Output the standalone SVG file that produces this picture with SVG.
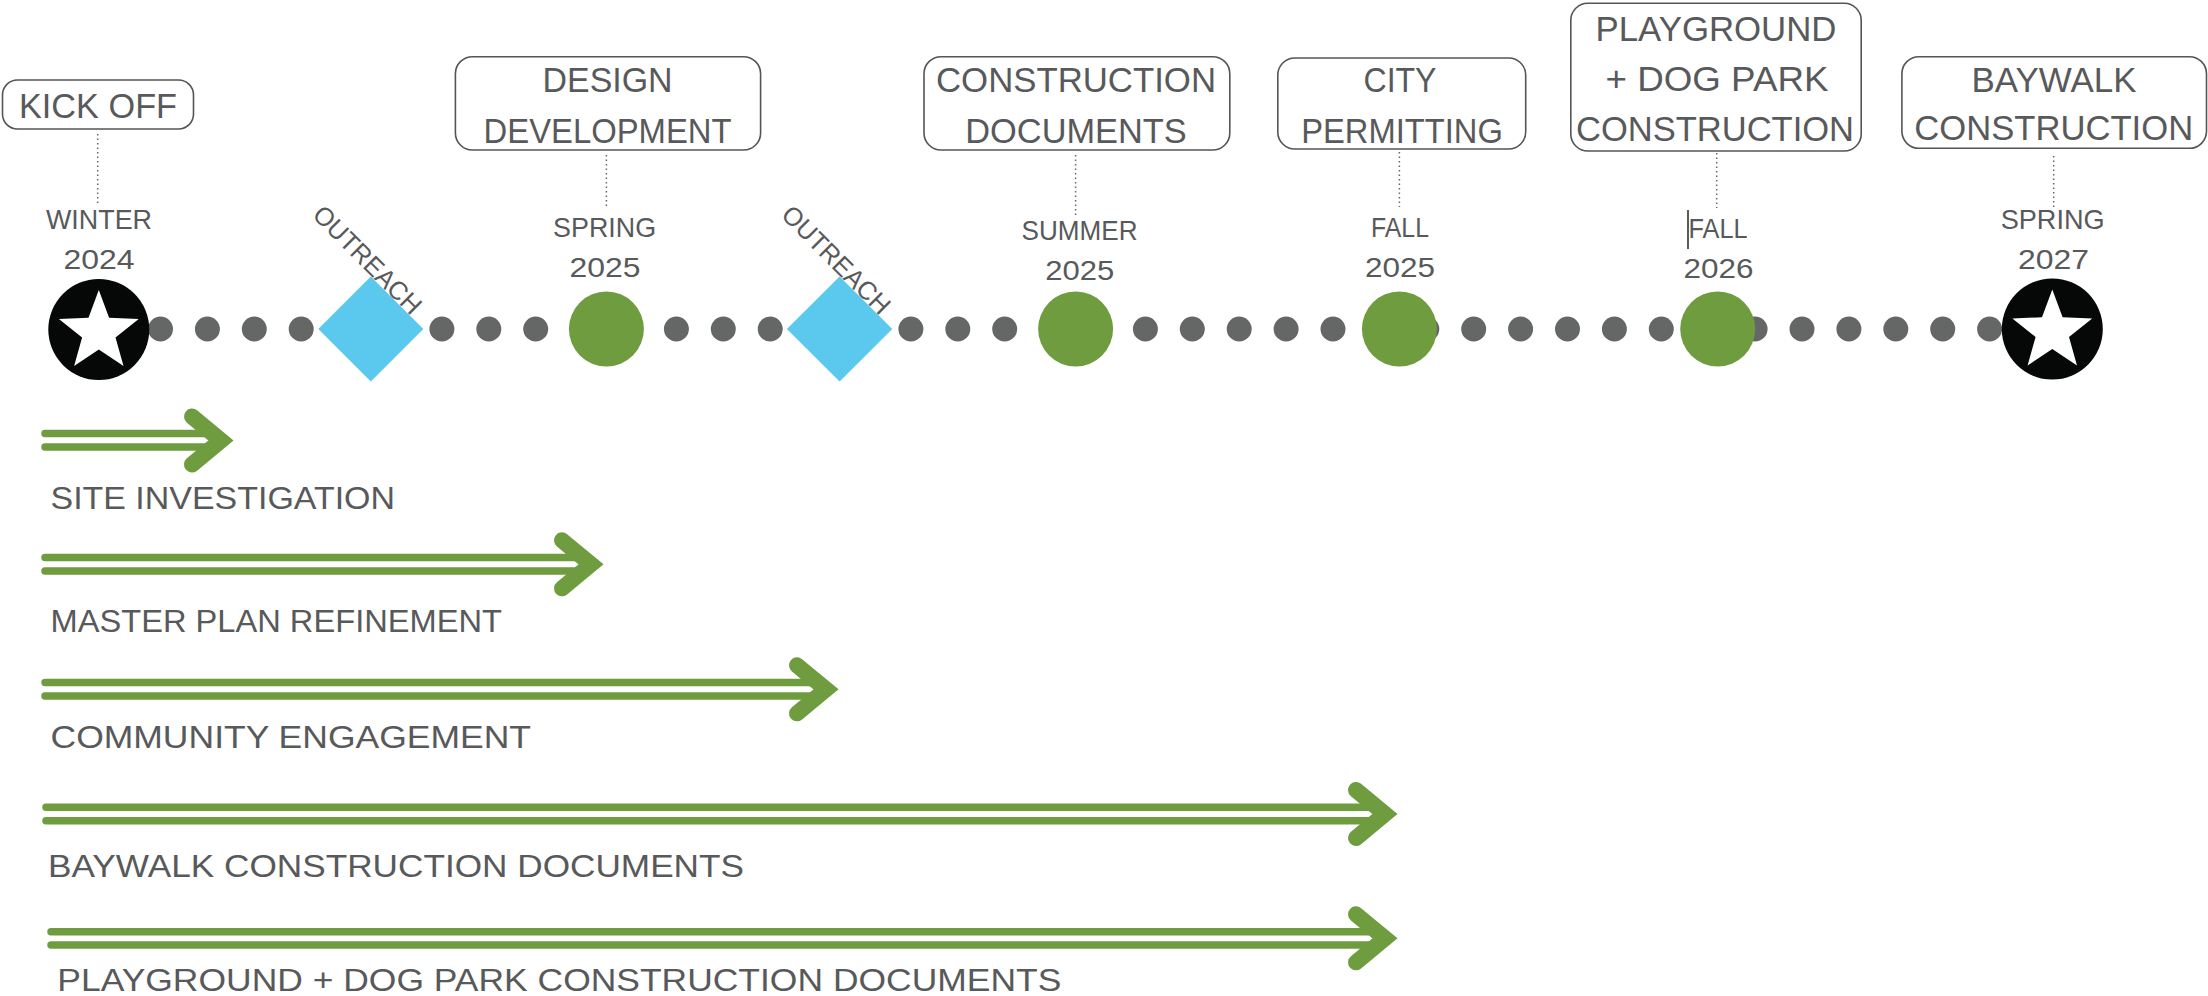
<svg xmlns="http://www.w3.org/2000/svg" width="2208" height="996" viewBox="0 0 2208 996">
<style>
  .box{fill:#fff;stroke:#555;stroke-width:1.6}
  .t{font-family:"Liberation Sans",Arial,sans-serif;fill:#58595b}
  .bt{font-size:35px;text-anchor:middle}
  .dt{font-size:28px;text-anchor:middle}
  .lt{font-size:31.5px}
  .ot{font-size:26px}
  .lead{stroke:#666;stroke-width:1.5;stroke-dasharray:1.5 3;fill:none}
  .dots{stroke:#656766;stroke-width:25;stroke-linecap:round;stroke-dasharray:0 46.9;fill:none}
  .green{fill:#6f9c3f}
  .blue{fill:#5bc8ee}
  .blk{fill:#060808}
  .star{fill:#fff}
  .bar{stroke:#6f9c3f;stroke-width:7.5;stroke-linecap:round;fill:none}
  .head{stroke:#6f9c3f;stroke-width:16;stroke-linecap:round;stroke-linejoin:miter;fill:none}
</style>
<defs>
  <polygon id="starshape" points="0,-42 10.3,-14.2 39.9,-13 16.7,5.4 24.7,34 0,17.5 -24.7,34 -16.7,5.4 -39.9,-13 -10.3,-14.2"/>
</defs>

<g id="connectors">
  <path class="dots" d="M 113.6 329 H 1990"/>
  <line class="lead" x1="97.7" y1="134" x2="97.7" y2="206"/>
  <line class="lead" x1="606.4" y1="155" x2="606.4" y2="207"/>
  <line class="lead" x1="1075.6" y1="155" x2="1075.6" y2="215"/>
  <line class="lead" x1="1399.4" y1="152" x2="1399.4" y2="207"/>
  <line class="lead" x1="1716.7" y1="153" x2="1716.7" y2="208"/>
  <line class="lead" x1="2053.7" y1="156" x2="2053.7" y2="207"/>
</g>

<g id="kickoff">
  <rect class="box" x="2.5" y="80" width="191" height="49" rx="15"/>
  <text class="t bt" x="98" y="118.3" textLength="158" lengthAdjust="spacingAndGlyphs">KICK OFF</text>
  <text class="t dt" x="99" y="229" textLength="106" lengthAdjust="spacingAndGlyphs">WINTER</text>
  <text class="t dt" x="99" y="269" textLength="71" lengthAdjust="spacingAndGlyphs">2024</text>
  <circle class="blk" cx="98.8" cy="329.5" r="50.5"/>
  <use href="#starshape" class="star" transform="translate(98.8,332)"/>
</g>

<g id="outreach1">
  <polygon class="blue" points="370.8,276.5 423.3,329 370.8,381.5 318.3,329"/>
  <text class="t ot" transform="translate(311.3,216.3) rotate(45)" textLength="141" lengthAdjust="spacingAndGlyphs">OUTREACH</text>
</g>

<g id="design-development">
  <rect class="box" x="455.4" y="56.7" width="305.2" height="93.3" rx="17"/>
  <text class="t bt" x="607.6" y="92" textLength="130" lengthAdjust="spacingAndGlyphs">DESIGN</text>
  <text class="t bt" x="607.6" y="142.7" textLength="248" lengthAdjust="spacingAndGlyphs">DEVELOPMENT</text>
  <text class="t dt" x="604.6" y="237" textLength="103" lengthAdjust="spacingAndGlyphs">SPRING</text>
  <text class="t dt" x="605" y="277" textLength="71" lengthAdjust="spacingAndGlyphs">2025</text>
  <circle class="green" cx="606.4" cy="329" r="37.5"/>
</g>

<g id="outreach2">
  <polygon class="blue" points="839.6,276.5 892.3,329 839.6,381.5 786.9,329"/>
  <text class="t ot" transform="translate(780.1,216.3) rotate(45)" textLength="141" lengthAdjust="spacingAndGlyphs">OUTREACH</text>
</g>

<g id="construction-documents">
  <rect class="box" x="924" y="56.7" width="305.8" height="93.3" rx="17"/>
  <text class="t bt" x="1076" y="92" textLength="280" lengthAdjust="spacingAndGlyphs">CONSTRUCTION</text>
  <text class="t bt" x="1076" y="142.7" textLength="221.5" lengthAdjust="spacingAndGlyphs">DOCUMENTS</text>
  <text class="t dt" x="1079.5" y="240" textLength="116" lengthAdjust="spacingAndGlyphs">SUMMER</text>
  <text class="t dt" x="1079.7" y="280" textLength="69" lengthAdjust="spacingAndGlyphs">2025</text>
  <circle class="green" cx="1075.6" cy="329" r="37.5"/>
</g>

<g id="city-permitting">
  <rect class="box" x="1277.8" y="58" width="247.9" height="91" rx="17"/>
  <text class="t bt" x="1400" y="91.7" textLength="73" lengthAdjust="spacingAndGlyphs">CITY</text>
  <text class="t bt" x="1402" y="142.7" textLength="201.7" lengthAdjust="spacingAndGlyphs">PERMITTING</text>
  <text class="t dt" x="1400" y="237" textLength="58" lengthAdjust="spacingAndGlyphs">FALL</text>
  <text class="t dt" x="1400" y="277" textLength="70" lengthAdjust="spacingAndGlyphs">2025</text>
  <circle class="green" cx="1399.4" cy="329" r="37.5"/>
</g>

<g id="playground-construction">
  <rect class="box" x="1570.8" y="3.3" width="290.4" height="147.7" rx="17"/>
  <text class="t bt" x="1716" y="41" textLength="241" lengthAdjust="spacingAndGlyphs">PLAYGROUND</text>
  <text class="t bt" x="1717" y="90.7" textLength="223" lengthAdjust="spacingAndGlyphs">+ DOG PARK</text>
  <text class="t bt" x="1715" y="140.7" textLength="278" lengthAdjust="spacingAndGlyphs">CONSTRUCTION</text>
  <line x1="1688" y1="210" x2="1688" y2="249" stroke="#333" stroke-width="1.6"/>
  <text class="t dt" x="1718" y="238" textLength="59" lengthAdjust="spacingAndGlyphs">FALL</text>
  <text class="t dt" x="1718.5" y="278" textLength="70" lengthAdjust="spacingAndGlyphs">2026</text>
  <circle class="green" cx="1717.7" cy="329" r="37.5"/>
</g>

<g id="baywalk-construction">
  <rect class="box" x="1901.9" y="56.7" width="304.6" height="91.6" rx="17"/>
  <text class="t bt" x="2054" y="92" textLength="165" lengthAdjust="spacingAndGlyphs">BAYWALK</text>
  <text class="t bt" x="2053.7" y="140" textLength="279" lengthAdjust="spacingAndGlyphs">CONSTRUCTION</text>
  <text class="t dt" x="2052.7" y="229" textLength="104" lengthAdjust="spacingAndGlyphs">SPRING</text>
  <text class="t dt" x="2053.5" y="269" textLength="71" lengthAdjust="spacingAndGlyphs">2027</text>
  <circle class="blk" cx="2052.3" cy="329" r="50.5"/>
  <use href="#starshape" class="star" transform="translate(2052.3,331.5)"/>
</g>

<g id="site-investigation">
  <path class="bar" d="M 45 433.5 H 206 M 45 447 H 206"/>
  <path class="head" d="M 192 416.5 L 221 440.5 L 192 464.5"/>
  <text class="t lt" x="50.5" y="509.3" textLength="344.5" lengthAdjust="spacingAndGlyphs">SITE INVESTIGATION</text>
</g>

<g id="master-plan-refinement">
  <path class="bar" d="M 45 557.5 H 577 M 45 571 H 577"/>
  <path class="head" d="M 562 540.3 L 591 564.3 L 562 588.3"/>
  <text class="t lt" x="50.5" y="632.3" textLength="451.5" lengthAdjust="spacingAndGlyphs">MASTER PLAN REFINEMENT</text>
</g>

<g id="community-engagement">
  <path class="bar" d="M 45 682.5 H 812 M 45 696 H 812"/>
  <path class="head" d="M 797 665.3 L 826 689.3 L 797 713.3"/>
  <text class="t lt" x="50.5" y="748.3" textLength="480.5" lengthAdjust="spacingAndGlyphs">COMMUNITY ENGAGEMENT</text>
</g>

<g id="baywalk-cd">
  <path class="bar" d="M 46 807.3 H 1371 M 46 820.7 H 1371"/>
  <path class="head" d="M 1356 790 L 1385 814 L 1356 838"/>
  <text class="t lt" x="48" y="876.7" textLength="696" lengthAdjust="spacingAndGlyphs">BAYWALK CONSTRUCTION DOCUMENTS</text>
</g>

<g id="playground-cd">
  <path class="bar" d="M 51 931.7 H 1371 M 51 945 H 1371"/>
  <path class="head" d="M 1356 914.3 L 1385 938.3 L 1356 962.3"/>
  <text class="t lt" x="57.3" y="991" textLength="1004" lengthAdjust="spacingAndGlyphs">PLAYGROUND + DOG PARK CONSTRUCTION DOCUMENTS</text>
</g>
</svg>
